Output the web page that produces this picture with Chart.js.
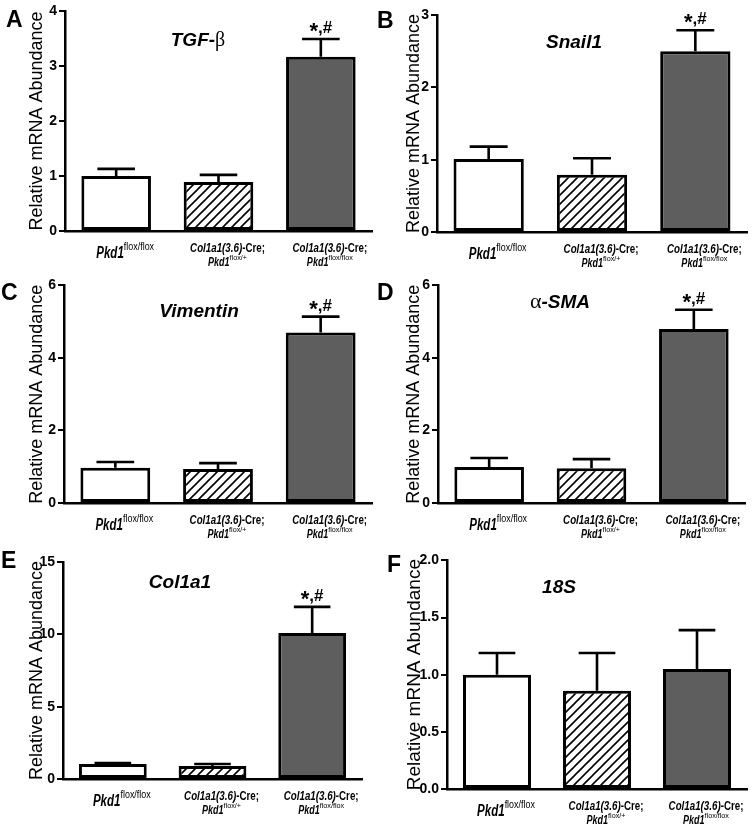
<!DOCTYPE html>
<html>
<head>
<meta charset="utf-8">
<script src="https://cdn.jsdelivr.net/npm/chart.js@4"></script>
<style>
  body { margin: 0; background: #fff; }
  #fig { position: relative; width: 755px; height: 828px; }
  #fig canvas { position: absolute; }
</style>
</head>
<body>
<div id="fig"></div>
<script>
// groups (x categories)
const groupPrefix = ['', 'Col1a1(3.6)', 'Col1a1(3.6)'];
const groupMain = ['Pkd1', 'Pkd1', 'Pkd1'];
const groupSup = ['flox/flox', 'flox/+', 'flox/flox'];
const groups = ['Pkd1 flox/flox', 'Col1a1(3.6)-Cre; Pkd1 flox/+', 'Col1a1(3.6)-Cre; Pkd1 flox/flox'];

// mean and SEM per gene
const tgfMean = [1.00, 0.89, 3.17];
const tgfSem = [0.13, 0.13, 0.32];
const snailMean = [1.01, 0.79, 2.50];
const snailSem = [0.17, 0.23, 0.29];
const vimMean = [0.97, 0.94, 4.70];
const vimSem = [0.16, 0.16, 0.44];
const smaMean = [0.99, 0.96, 4.80];
const smaSem = [0.25, 0.25, 0.53];
const colMean = [1.03, 0.90, 10.1];
const colSem = [0.07, 0.14, 1.80];
const s18Mean = [1.00, 0.86, 1.05];
const s18Sem = [0.19, 0.33, 0.34];

// y axis ranges
const yMaxes = [4, 3, 6, 6, 15, 2];
const ySteps = [1, 1, 2, 2, 5, 0.5];

const SANS = '"Liberation Sans", Arial, sans-serif';
const SERIF = '"Liberation Serif", "DejaVu Serif", serif';

function hatch() {
  const c = document.createElement('canvas');
  c.width = 9; c.height = 9;
  const g = c.getContext('2d');
  g.fillStyle = '#fff';
  g.fillRect(0, 0, 9, 9);
  g.strokeStyle = '#000';
  g.lineWidth = 1.6;
  g.beginPath();
  g.moveTo(-1, 10); g.lineTo(10, -1);
  g.moveTo(-1, 1); g.lineTo(1, -1);
  g.moveTo(8, 10); g.lineTo(10, 8);
  g.stroke();
  return g.createPattern(c, 'repeat');
}

function drawRich(ctx, parts, cx, y) {
  let w = 0;
  parts.forEach(p => {
    ctx.font = p.f;
    p.w = ctx.measureText(p.t).width * (p.sx || 1);
    w += p.w;
  });
  let x = cx - w / 2;
  parts.forEach(p => {
    ctx.save();
    ctx.translate(x, y + (p.dy || 0));
    ctx.scale(p.sx || 1, 1);
    ctx.font = p.f;
    ctx.fillText(p.t, 0, 0);
    ctx.restore();
    x += p.w;
  });
}

const panelDeco = {
  id: 'panelDeco',
  afterDatasetsDraw(chart, args, opts) {
    const ctx = chart.ctx;
    const ys = chart.scales.y;
    const meta = chart.getDatasetMeta(0);
    ctx.save();
    ctx.strokeStyle = '#000';
    ctx.fillStyle = '#000';
    ctx.lineWidth = 2.6;
    meta.data.forEach((bar, i) => {
      const top = ys.getPixelForValue(opts.mean[i] + opts.sem[i]);
      const half = bar.width * 0.27;
      ctx.beginPath();
      ctx.moveTo(bar.x, bar.y);
      ctx.lineTo(bar.x, top);
      ctx.moveTo(bar.x - half, top);
      ctx.lineTo(bar.x + half, top);
      ctx.stroke();
      if (opts.stars[i]) {
        drawRich(ctx, [
          { t: '*', f: 'bold 22px ' + SANS, dy: 5 },
          { t: ',', f: 'bold 17px ' + SANS },
          { t: '#', f: 'bold 17px ' + SANS }
        ], bar.x, top - 6);
      }
    });
    ctx.restore();
  },
  afterDraw(chart, args, opts) {
    const ctx = chart.ctx;
    const xs = chart.scales.x;
    const base = chart.chartArea.bottom;
    ctx.save();
    ctx.fillStyle = '#000';
    ctx.textAlign = 'left';
    ctx.textBaseline = 'alphabetic';
    // panel letter
    ctx.font = 'bold 23px ' + SANS;
    ctx.fillText(opts.letter, opts.letterX, opts.letterY);
    // gene title
    drawRich(ctx, opts.gene, opts.geneX, opts.geneY);
    // category labels
    groups.forEach((g, i) => {
      const cx = xs.getPixelForValue(i) + 9;
      if (groupPrefix[i]) {
        drawRich(ctx, [
          { t: groupPrefix[i], f: 'italic bold 12.5px ' + SANS, sx: 0.78 },
          { t: '-Cre;', f: 'bold 12.5px ' + SANS, sx: 0.78 }
        ], cx, base + 21);
        drawRich(ctx, [
          { t: groupMain[i], f: 'italic bold 12.5px ' + SANS, sx: 0.72 },
          { t: groupSup[i], f: '8px ' + SANS, dy: -6, sx: 0.9 }
        ], cx, base + 35);
      } else {
        drawRich(ctx, [
          { t: groupMain[i], f: 'italic bold 16px ' + SANS, sx: 0.72 },
          { t: groupSup[i], f: '10.5px ' + SANS, dy: -8, sx: 0.85 }
        ], cx, base + 27);
      }
    });
    ctx.restore();
  }
};

const bi = 'italic bold 19px ' + SANS;
const panels = [
  { left: 0, top: 0, w: 377, h: 275, axisX: 65, plotTop: 11, plotBottom: 231, axisRight: 372,
    mean: tgfMean, sem: tgfSem, letter: 'A', letterX: 6, letterY: 27,
    gene: [{ t: 'TGF-', f: bi }, { t: 'β', f: '20px ' + SERIF }], geneX: 198, geneY: 46 },
  { left: 377, top: 0, w: 378, h: 275, axisX: 437, plotTop: 15, plotBottom: 232, axisRight: 747,
    mean: snailMean, sem: snailSem, letter: 'B', letterX: 0, letterY: 28,
    gene: [{ t: 'Snail1', f: bi }], geneX: 197, geneY: 48 },
  { left: 0, top: 275, w: 377, h: 275, axisX: 64, plotTop: 5, plotBottom: 228, axisRight: 372,
    mean: vimMean, sem: vimSem, letter: 'C', letterX: 1, letterY: 25,
    gene: [{ t: 'Vimentin', f: bi }], geneX: 199, geneY: 42 },
  { left: 377, top: 275, w: 378, h: 275, axisX: 438, plotTop: 10, plotBottom: 228, axisRight: 745,
    mean: smaMean, sem: smaSem, letter: 'D', letterX: 0, letterY: 25,
    gene: [{ t: 'α', f: '22px ' + SERIF }, { t: '-SMA', f: bi }], geneX: 183, geneY: 33 },
  { left: 0, top: 550, w: 377, h: 278, axisX: 63, plotTop: 12, plotBottom: 229, axisRight: 362,
    mean: colMean, sem: colSem, letter: 'E', letterX: 1, letterY: 18,
    gene: [{ t: 'Col1a1', f: bi }], geneX: 180, geneY: 38 },
  { left: 377, top: 550, w: 378, h: 278, axisX: 447, plotTop: 7, plotBottom: 239, axisRight: 747,
    mean: s18Mean, sem: s18Sem, letter: 'F', letterX: 10, letterY: 22,
    gene: [{ t: '18S', f: bi }], geneX: 182, geneY: 43 }
];
const starFlags = [[0, 0, 1], [0, 0, 1], [0, 0, 1], [0, 0, 1], [0, 0, 1], [0, 0, 0]];

const fig = document.getElementById('fig');
const pat = hatch();

panels.forEach((p, k) => {
  const cv = document.createElement('canvas');
  cv.width = p.w; cv.height = p.h;
  cv.style.left = p.left + 'px';
  cv.style.top = p.top + 'px';
  fig.appendChild(cv);

  const yAxisW = p.axisX - p.left;
  const plotH = p.plotBottom - p.plotTop;

  new Chart(cv, {
    type: 'bar',
    data: {
      labels: groups,
      datasets: [{
        data: p.mean,
        backgroundColor: ['#ffffff', pat, '#5e5e5e'],
        borderColor: '#000',
        borderWidth: 3,
        borderSkipped: false,
        barPercentage: 0.68,
        categoryPercentage: 1
      }]
    },
    options: {
      responsive: false,
      animation: false,
      layout: { padding: { left: 0, top: p.plotTop, right: p.left + p.w - p.axisRight, bottom: 0 } },
      plugins: {
        legend: { display: false },
        tooltip: { enabled: false },
        panelDeco: { mean: p.mean, sem: p.sem, stars: starFlags[k], letter: p.letter,
          letterX: p.letterX, letterY: p.letterY, gene: p.gene, geneX: p.geneX, geneY: p.geneY }
      },
      scales: {
        x: {
          ticks: { display: false },
          grid: { display: false },
          border: { display: true, color: '#000', width: 2.5 },
          afterFit: s => { s.height = p.h - p.plotBottom; }
        },
        y: {
          min: 0,
          max: yMaxes[k],
          ticks: {
            stepSize: ySteps[k],
            color: '#000',
            padding: 2,
            font: { family: SANS, size: 14, weight: 'bold' },
            callback: v => ySteps[k] < 1 ? v.toFixed(1) : v
          },
          grid: { display: true, drawOnChartArea: false, drawTicks: true, tickLength: 6, color: '#000', lineWidth: 2 },
          border: { display: true, color: '#000', width: 2.5 },
          title: {
            display: true,
            text: 'Relative mRNA Abundance',
            color: '#000',
            font: { family: SANS, size: Math.round(plotH / 12.1) },
            padding: { top: 26, bottom: 0 }
          },
          afterFit: s => { s.width = yAxisW; }
        }
      }
    },
    plugins: [panelDeco]
  });
});
</script>
</body>
</html>
